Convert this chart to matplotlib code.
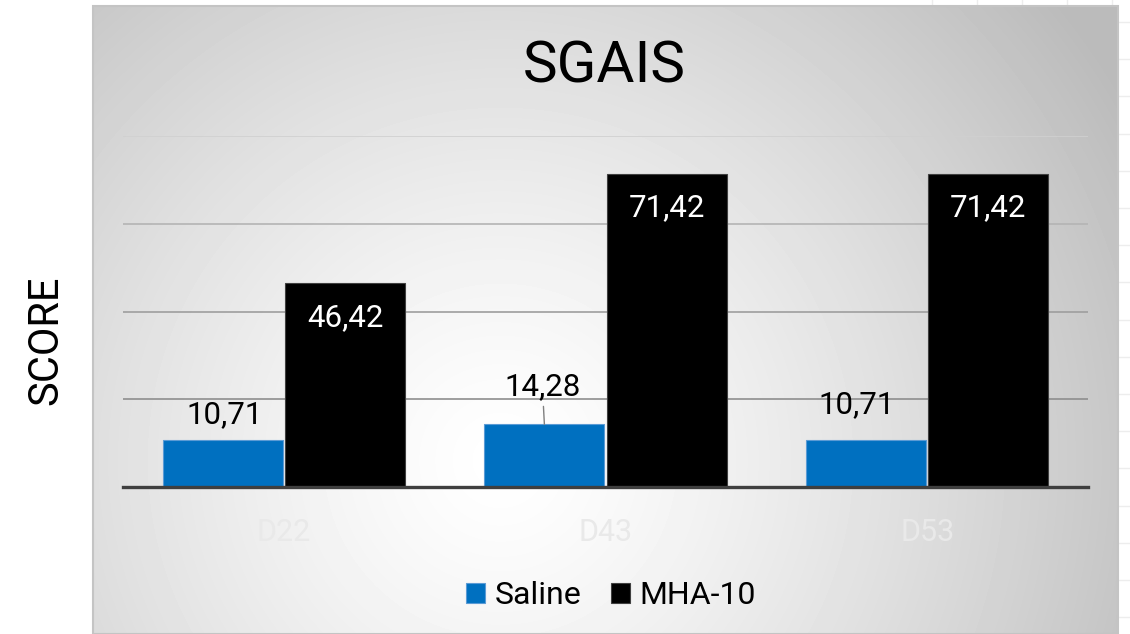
"""SGAIS score by visit, Saline vs MHA-10."""

import matplotlib

matplotlib.use("Agg")

import matplotlib.pyplot as plt
import numpy as np
from matplotlib.lines import Line2D
from matplotlib.patches import Rectangle

W, H = 1130, 634

CATEGORIES = ["D22", "D43", "D53"]
SALINE = [10.71, 14.28, 10.71]
MHA10 = [46.42, 71.42, 71.42]
SERIES_NAMES = ["Saline", "MHA-10"]
TITLE = "SGAIS"
Y_LABEL = "SCORE"

BLUE = "#0070c0"
BLACK = "#000000"


def fmt(v: float) -> str:
    return f"{v:.2f}".replace(".", ",")


def px_rect(x0, y0, x1, y1):
    """Pixel box (top-left origin) -> figure fraction rect."""
    return [x0 / W, 1 - y1 / H, (x1 - x0) / W, (y1 - y0) / H]


def draw_background(fig):
    # faint spreadsheet grid behind the chart object
    for x in np.arange(932, W, 45):
        fig.add_artist(Line2D([x / W, x / W], [1 - 6 / H, 1], color="#ededed",
                              lw=1, transform=fig.transFigure, zorder=0))
    for y in np.arange(22, H, 37.2):
        fig.add_artist(Line2D([1118 / W, 1], [1 - y / H, 1 - y / H], color="#ededed",
                              lw=1, transform=fig.transFigure, zorder=0))

    # chart area with radial grey gradient
    bg = fig.add_axes(px_rect(93, 6, 1118, H))
    xs = np.arange(93, 1118)
    ys = np.arange(6, H)
    xx, yy = np.meshgrid(xs, ys)
    r = np.clip(np.hypot(xx - 500, yy - 460) / 720, 0, 1) ** 1.3
    shade = (255 - 68 * r) / 255
    bg.imshow(shade, cmap="gray", vmin=0, vmax=1, aspect="auto",
              interpolation="bilinear")
    bg.set_axis_off()
    bg.add_patch(Rectangle((0, 0), 1, 1, transform=bg.transAxes, fill=False,
                           edgecolor="#c4c4c4", lw=1.5, clip_on=False))


def main() -> None:
    plt.rcParams["font.family"] = ["Roboto", "DejaVu Sans"]
    fig = plt.figure(figsize=(W / 100, H / 100), dpi=100, facecolor="white")
    draw_background(fig)

    ax = fig.add_axes(px_rect(123, 136, 1088, 487))
    ax.patch.set_alpha(0)

    x = np.arange(len(CATEGORIES))
    width = 0.373
    off = 0.19
    b1 = ax.bar(x - off, SALINE, width, color=BLUE, edgecolor="#5b9bd5",
                linewidth=0.8, zorder=3, label=SERIES_NAMES[0])
    b2 = ax.bar(x + off, MHA10, width, color=BLACK, edgecolor="#404040",
                linewidth=0.8, zorder=3, label=SERIES_NAMES[1])

    ax.set_xlim(-0.5, 2.5)
    ax.set_ylim(0, 80)
    ax.set_yticks([])
    for val, col in zip([20, 40, 60, 80], ["#8e8e8e", "#9e9e9e", "#b4b4b4", "#d0d0d0"]):
        ax.axhline(val, color=col, lw=1.2, zorder=1)

    for s in ["top", "right", "left"]:
        ax.spines[s].set_visible(False)
    ax.spines["bottom"].set_color("#3f3f3f")
    ax.spines["bottom"].set_linewidth(2.4)
    ax.spines["bottom"].set_zorder(4)

    ax.set_xticks(x)
    ax.set_xticklabels(CATEGORIES, fontsize=22, color="#e9e9e9")
    ax.tick_params(axis="x", length=0, pad=22)

    # saline labels above bars, Excel moved them by hand
    saline_offsets = [(2, 25), (-2, 38), (-9, 35)]
    for rect, val, (dx, dy) in zip(b1, SALINE, saline_offsets):
        cx = rect.get_x() + rect.get_width() / 2
        props = None
        if dy > 36 and dx < 0:
            props = dict(arrowstyle="-", color="#7f7f7f", lw=1,
                         shrinkA=2, shrinkB=0)
        ax.annotate(fmt(val), (cx, rect.get_height()), xytext=(dx, dy),
                    textcoords="offset pixels", ha="center", va="center",
                    fontsize=22.5, color="black", arrowprops=props, zorder=5)

    for rect, val in zip(b2, MHA10):
        cx = rect.get_x() + rect.get_width() / 2
        ax.annotate(fmt(val), (cx, rect.get_height()), xytext=(0, -34),
                    textcoords="offset pixels", ha="center", va="center",
                    fontsize=22.5, color="white", zorder=5)

    fig.text(604 / W, 1 - 67 / H, TITLE, ha="center", va="center", fontsize=42)
    fig.text(46 / W, 1 - 340 / H, Y_LABEL, ha="center", va="center",
             fontsize=30, rotation=90)

    fig.legend(handles=[b1, b2], labels=SERIES_NAMES, loc="center",
               bbox_to_anchor=(611 / W, 1 - 596 / H), ncol=2, frameon=False,
               fontsize=23, handlelength=0.6, handleheight=0.6,
               handletextpad=0.3, columnspacing=0.9)

    fig.savefig("out.png", dpi=100, facecolor="white")
    plt.close(fig)


if __name__ == "__main__":
    main()
